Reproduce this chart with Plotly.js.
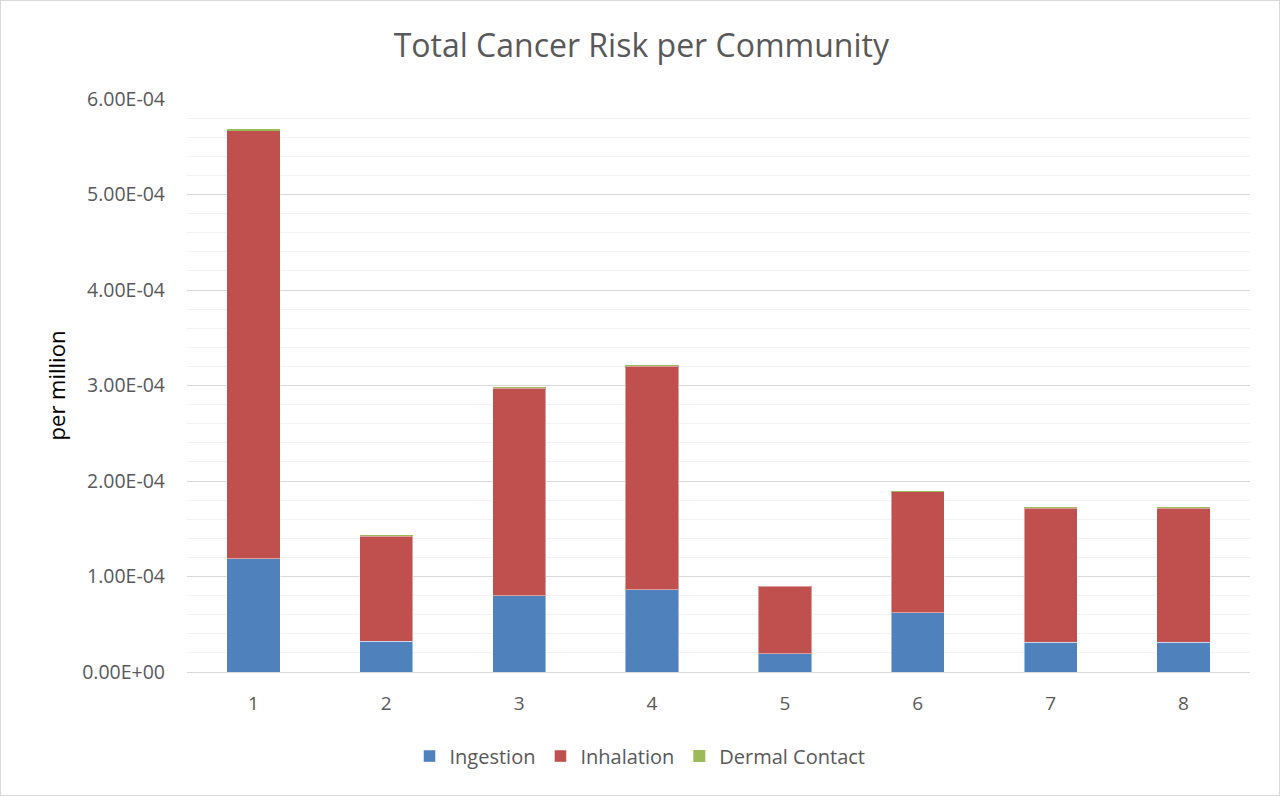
<!DOCTYPE html>
<html>
<head>
<meta charset="utf-8">
<script src="https://cdn.plot.ly/plotly-3.0.1.min.js"></script>
<style>
  html, body { margin: 0; padding: 0; background: #fff; }
  #chart { width: 1278px; height: 794px; border: 1px solid #d9d9d9; }
</style>
</head>
<body>
<div id="chart"></div>
<script>
const communities = ['1', '2', '3', '4', '5', '6', '7', '8'];
const ingestion  = [1.186e-4, 0.321e-4, 0.796e-4, 0.859e-4, 0.192e-4, 0.618e-4, 0.311e-4, 0.311e-4];
const inhalation = [4.480e-4, 1.100e-4, 2.175e-4, 2.342e-4, 0.705e-4, 1.267e-4, 1.406e-4, 1.406e-4];
const dermal     = [0.025e-4, 0.010e-4, 0.013e-4, 0.014e-4, 0.007e-4, 0.010e-4, 0.011e-4, 0.011e-4];
const yTickVals  = [0, 1e-4, 2e-4, 3e-4, 4e-4, 5e-4, 6e-4];
const yTickText  = ['0.00E+00', '1.00E-04', '2.00E-04', '3.00E-04', '4.00E-04', '5.00E-04', '6.00E-04'];

const edge = {color: 'rgba(255,255,255,0.45)', width: 1};
const traces = [
  {type: 'bar', name: 'Ingestion', x: communities, y: ingestion, marker: {color: '#4F81BD', line: edge}},
  {type: 'bar', name: 'Inhalation', x: communities, y: inhalation, marker: {color: '#C0504D', line: edge}},
  {type: 'bar', name: 'Dermal Contact', x: communities, y: dermal, marker: {color: '#9BBB59'}}
];

const layout = {
  width: 1278, height: 794,
  paper_bgcolor: '#fff', plot_bgcolor: '#fff',
  barmode: 'stack', bargap: 0.6,
  margin: {l: 186, r: 29, t: 98, b: 123},
  font: {family: 'Open Sans, sans-serif', color: '#595959'},
  title: {text: 'Total Cancer Risk per Community', font: {size: 32, color: '#595959'},
          x: 0.501, xref: 'container', xanchor: 'center', y: 0.944, yref: 'container', yanchor: 'middle'},
  xaxis: {type: 'category', showgrid: false, showline: true, linecolor: '#d9d9d9', linewidth: 1,
          ticks: '', ticklabelstandoff: 14, tickfont: {size: 19, color: '#595959'}, zeroline: false},
  yaxis: {range: [0, 6e-4], tickvals: yTickVals, ticktext: yTickText, showgrid: true,
          gridcolor: '#d9d9d9', gridwidth: 1, zeroline: false, showline: false, ticks: '',
          ticklen: 0, ticklabelstandoff: 21, tickfont: {size: 19.5, color: '#595959'},
          minor: {dtick: 0.2e-4, showgrid: true, gridcolor: '#f2f2f2', gridwidth: 1, ticks: ''},
          title: {text: 'per million', font: {size: 22, color: '#000'}, standoff: 10}},
  legend: {orientation: 'h', xref: 'container', x: 0.5, xanchor: 'center', yref: 'container', y: 0.049,
           yanchor: 'middle', font: {size: 20, color: '#595959'}, itemwidth: 30, traceorder: 'normal'},
  showlegend: true
};

Plotly.newPlot('chart', traces, layout, {displayModeBar: false, staticPlot: true});
</script>
</body>
</html>
